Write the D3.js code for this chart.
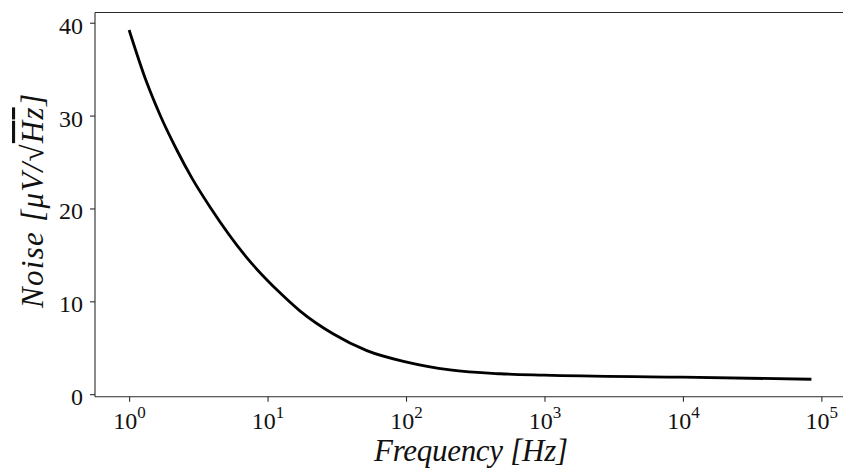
<!DOCTYPE html>
<html>
<head>
<meta charset="utf-8">
<script src="https://cdn.jsdelivr.net/npm/d3@7"></script>
<style>
  html, body { margin: 0; padding: 0; background: #fff; }
  svg { display: block; }
</style>
</head>
<body>
<svg id="chart" width="843" height="471"></svg>
<script>
// Data
const frequencies = [1, 1.327, 1.682, 2.22, 2.85, 3.86, 7.10, 12.35, 17.2, 29.9, 52.1, 101.3, 208, 478, 997, 9935, 84700];
const noiseValues = [39.22, 33.74, 29.98, 26.24, 23.24, 20.11, 14.68, 10.89, 8.95, 6.48, 4.69, 3.45, 2.61, 2.20, 2.05, 1.83, 1.61];
const yTicks = [0, 10, 20, 30, 40];
const xTickExponents = [0, 1, 2, 3, 4, 5];
const xLabel = "Frequency [Hz]";

(function () {
const svg = d3.select("#chart");
const pLeft = 95, pRight = 845.5, pTop = 12.5, pBottom = 396.7;

// matplotlib-style 5% margins
const lx = frequencies.map(Math.log10);
const lxMin = d3.min(lx), lxMax = d3.max(lx), lxPad = (lxMax - lxMin) * 0.05;
const yMin = d3.min(noiseValues), yMax = d3.max(noiseValues), yPad = (yMax - yMin) * 0.05;

const x = d3.scaleLog()
  .domain([Math.pow(10, lxMin - lxPad), Math.pow(10, lxMax + lxPad)])
  .range([pLeft, pRight]);
const y = d3.scaleLinear()
  .domain([yMin - yPad, yMax + yPad])
  .range([pBottom, pTop]);

const spineColor = "#2b2b2b";
const tickFont = "'Liberation Serif', 'Times New Roman', serif";

// curve
const line = d3.line()
  .x((d, i) => x(frequencies[i]))
  .y(d => y(d))
  .curve(d3.curveMonotoneX);
svg.append("path")
  .datum(noiseValues)
  .attr("d", line)
  .attr("fill", "none")
  .attr("stroke", "#000")
  .attr("stroke-width", 2.8)
  .attr("stroke-linejoin", "round");

// spines (box)
const spines = svg.append("g").attr("stroke", spineColor).attr("stroke-width", 1.1).attr("fill", "none");
spines.append("line").attr("x1", pLeft).attr("x2", pRight).attr("y1", pBottom).attr("y2", pBottom);
spines.append("line").attr("x1", pLeft).attr("x2", pRight).attr("y1", pTop).attr("y2", pTop);
spines.append("line").attr("x1", pLeft).attr("x2", pLeft).attr("y1", pTop).attr("y2", pBottom);
spines.append("line").attr("x1", pRight).attr("x2", pRight).attr("y1", pTop).attr("y2", pBottom);

// y axis
const yAxis = d3.axisLeft(y).tickValues(yTicks).tickSize(5).tickPadding(6).tickFormat(d3.format("d"));
const gy = svg.append("g").attr("transform", `translate(${pLeft},0)`).call(yAxis);
gy.select(".domain").remove();
gy.selectAll(".tick line").attr("stroke", spineColor).attr("stroke-width", 1.1);
gy.selectAll(".tick text")
  .attr("font-family", tickFont)
  .attr("font-size", 24)
  .attr("fill", "#111")
  .attr("dy", null)
  .attr("y", 10.5)
  .attr("x", -12);

// x axis
const xTickValues = xTickExponents.map(e => Math.pow(10, e));
const xAxis = d3.axisBottom(x).tickValues(xTickValues).tickSize(5).tickFormat("");
const gx = svg.append("g").attr("transform", `translate(0,${pBottom})`).call(xAxis);
gx.select(".domain").remove();
gx.selectAll(".tick line").attr("stroke", spineColor).attr("stroke-width", 1.1);
gx.selectAll(".tick text").remove();
gx.selectAll(".tick").each(function(d, i) {
  const t = d3.select(this).append("text")
    .attr("font-family", tickFont)
    .attr("font-size", 24)
    .attr("fill", "#111")
    .attr("text-anchor", "middle")
    .attr("y", 32.3);
  t.append("tspan").text("10");
  t.append("tspan").attr("font-size", 17).attr("dy", -10.7).text(xTickExponents[i]);
});

// x label
const labelFont = "'Liberation Serif', 'Times New Roman', serif";
svg.append("text")
  .attr("x", 471)
  .attr("y", 461)
  .attr("text-anchor", "middle")
  .attr("font-family", labelFont)
  .attr("font-style", "italic")
  .attr("font-size", 31)
  .attr("textLength", 194)
  .attr("lengthAdjust", "spacing")
  .attr("fill", "#111")
  .text(xLabel);

// y label: Noise [μV/√Hz]
const yl = svg.append("text")
  .attr("transform", `translate(43,201) rotate(-90)`)
  .attr("text-anchor", "middle")
  .attr("font-family", labelFont)
  .attr("font-style", "italic")
  .attr("font-size", 31)
  .attr("textLength", 214)
  .attr("lengthAdjust", "spacing")
  .attr("fill", "#111");
yl.append("tspan").text("Noise [μV/");
yl.append("tspan").attr("font-style", "normal").text("√");
yl.append("tspan").style("text-decoration", "overline").text("Hz");
yl.append("tspan").text("]");
})();
</script>
</body>
</html>
